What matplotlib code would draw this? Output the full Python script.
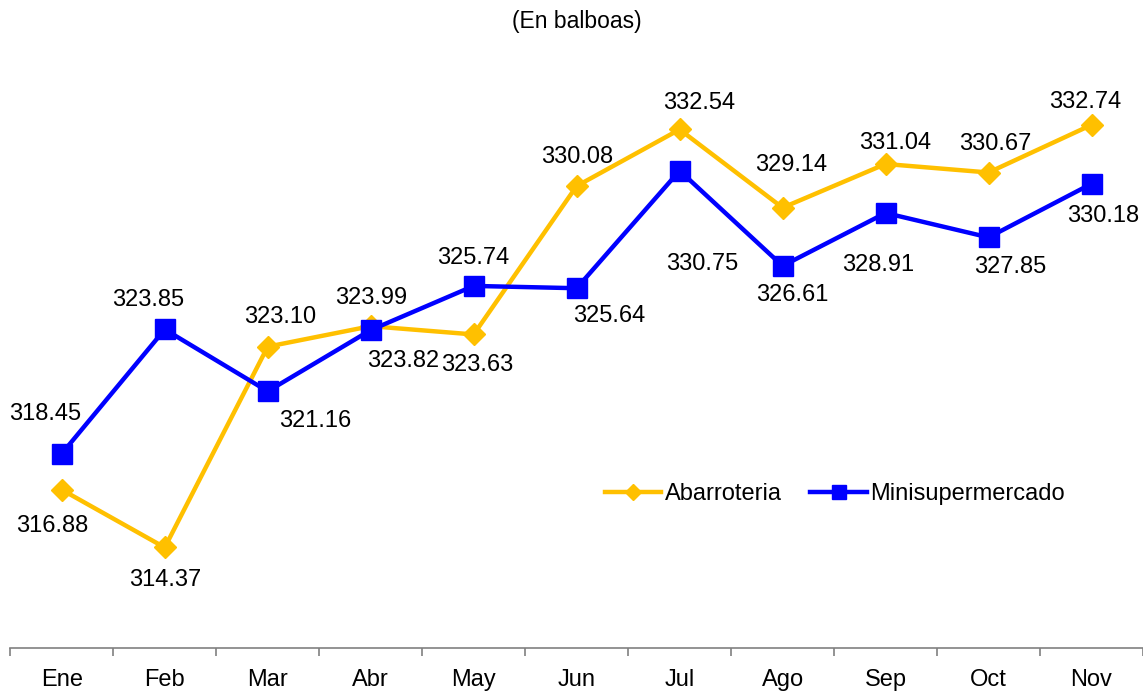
import numpy as np
import matplotlib
matplotlib.use("Agg")
import matplotlib.pyplot as plt

plt.rcParams["font.family"] = ["Liberation Sans", "DejaVu Sans"]

meses = ["Ene", "Feb", "Mar", "Abr", "May", "Jun", "Jul", "Ago", "Sep", "Oct", "Nov"]
abarroteria = [316.88, 314.37, 323.10, 323.99, 323.63, 330.08, 332.54, 329.14, 331.04, 330.67, 332.74]
minisuper = [318.45, 323.85, 321.16, 323.82, 325.74, 325.64, 330.75, 326.61, 328.91, 327.85, 330.18]

# label offsets in pixels (dx, dy down positive)
off_ab = [(-10, 36), (0, 33), (12, -30), (0, -28), (4, 31), (0, -29),
          (20, -26), (9, -43), (10, -21), (7, -29), (-6, -23)]
off_mi = [(-17, -40), (-17, -29), (47, 30), (32, 31), (0, -28), (33, 28),
          (23, 93), (10, 29), (-7, 52), (22, 30), (12, 32)]

gold = "#FFC000"
blue = "#0000FF"
fs = 17

fig = plt.figure(figsize=(11.43, 6.91), dpi=100)
ax = fig.add_axes([0.009, 0.0622, 0.991, 0.8656])

x = np.arange(len(meses))
ax.plot(x, abarroteria, color=gold, lw=3.2, marker="D", ms=11, label="Abarroteria", zorder=3)
ax.plot(x, minisuper, color=blue, lw=3.2, marker="s", ms=14, label="Minisupermercado", zorder=3)

px = 72 / 100
for xi, v, (dx, dy) in zip(x, abarroteria, off_ab):
    ax.annotate(f"{v:.2f}", (xi, v), xytext=(dx * px, -dy * px), textcoords="offset points",
                ha="center", va="center", fontsize=fs)
for xi, v, (dx, dy) in zip(x, minisuper, off_mi):
    ax.annotate(f"{v:.2f}", (xi, v), xytext=(dx * px, -dy * px), textcoords="offset points",
                ha="center", va="center", fontsize=fs)

ax.set_xlim(-0.5, len(meses) - 0.5)
ax.set_ylim(310, 336)
ax.set_yticks([])
for s in ["top", "right", "left"]:
    ax.spines[s].set_visible(False)
ax.spines["bottom"].set_color("#808080")
ax.spines["bottom"].set_linewidth(1.2)
ax.set_xticks(x)
ax.set_xticklabels(meses, fontsize=fs)
ax.tick_params(axis="x", which="major", length=0, pad=15)
ax.set_xticks(np.arange(-0.5, len(meses)), minor=True)
ax.tick_params(axis="x", which="minor", length=6, color="#808080", width=1.2)

ax.legend(loc="center", bbox_to_anchor=(0.728, 0.2575), ncol=2, frameon=False,
          fontsize=fs, handlelength=2.4, columnspacing=1.2, handletextpad=0.15,
          markerscale=0.75)

fig.text(0.505, 0.969, "(En balboas)", ha="center", va="center", fontsize=16.5)

fig.savefig("out.png", dpi=100)
